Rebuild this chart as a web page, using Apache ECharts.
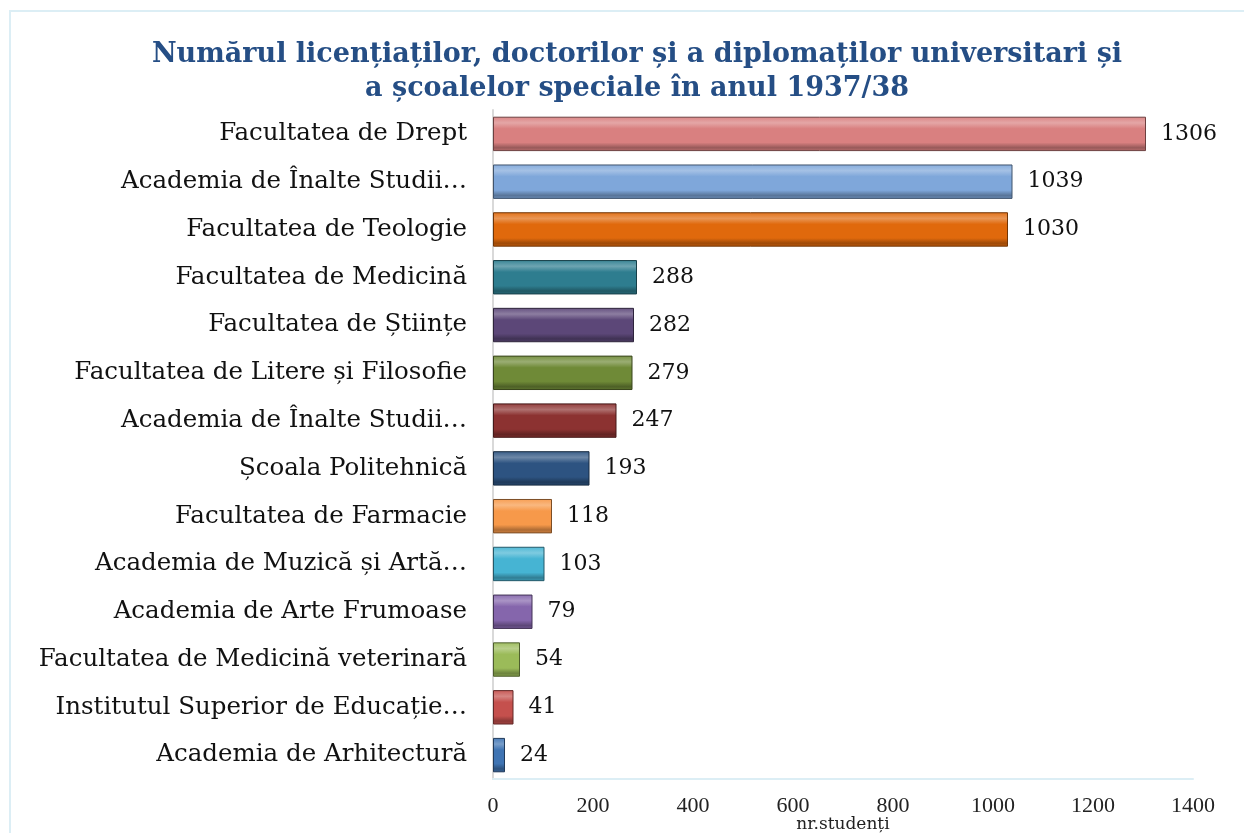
<!DOCTYPE html>
<html>
<head>
<meta charset="utf-8">
<script src="https://cdn.jsdelivr.net/npm/echarts@6/dist/echarts.min.js"></script>
<style>
html,body{margin:0;padding:0;background:#fff;}
#c{width:1244px;height:833px;}
</style>
</head>
<body>
<div id="c"></div>
<script>
const categories = [
  "Facultatea de Drept",
  "Academia de Înalte Studii…",
  "Facultatea de Teologie",
  "Facultatea de Medicină",
  "Facultatea de Științe",
  "Facultatea de Litere și Filosofie",
  "Academia de Înalte Studii…",
  "Școala Politehnică",
  "Facultatea de Farmacie",
  "Academia de Muzică și Artă…",
  "Academia de Arte Frumoase",
  "Facultatea de Medicină veterinară",
  "Institutul Superior de Educație…",
  "Academia de Arhitectură"
];
const values = [1306, 1039, 1030, 288, 282, 279, 247, 193, 118, 103, 79, 54, 41, 24];
const xTicks = [0, 200, 400, 600, 800, 1000, 1200, 1400];
const barColors = ["#D98080","#7FA7DA","#E0690C","#2E7D8F","#5C4778","#6F8A37","#8C3231",
                   "#2D5381","#F7994A","#46B4D3","#8566AC","#9BBB59","#C5504D","#3F74B3"];

function shade(hex, f) {
  const n = parseInt(hex.slice(1), 16);
  let r = (n >> 16) & 255, g = (n >> 8) & 255, b = n & 255;
  if (f >= 0) { r += (255 - r) * f; g += (255 - g) * f; b += (255 - b) * f; }
  else { r *= (1 + f); g *= (1 + f); b *= (1 + f); }
  return "rgb(" + Math.round(r) + "," + Math.round(g) + "," + Math.round(b) + ")";
}

const data = values.map((v, i) => ({
  value: v,
  itemStyle: {
    color: new echarts.graphic.LinearGradient(0, 0, 0, 1, [
      { offset: 0, color: shade(barColors[i], 0.05) },
      { offset: 0.18, color: shade(barColors[i], 0.3) },
      { offset: 0.35, color: barColors[i] },
      { offset: 0.75, color: barColors[i] },
      { offset: 0.9, color: shade(barColors[i], -0.3) },
      { offset: 1, color: shade(barColors[i], -0.15) }
    ]),
    borderColor: shade(barColors[i], -0.5),
    borderWidth: 1
  }
}));

const chart = echarts.init(document.getElementById('c'));
chart.setOption({
  backgroundColor: '#ffffff',
  animation: false,
  graphic: [{
    type: 'rect',
    shape: { x: 10, y: 11, width: 1260, height: 850 },
    style: { fill: 'none', stroke: '#DCEEF5', lineWidth: 2 },
    silent: true
  }],
  title: {
    text: 'Numărul licențiaților, doctorilor și a diplomaților universitari și\na școalelor speciale în anul 1937/38',
    left: 632,
    textAlign: 'center',
    top: 33,
    textStyle: {
      fontFamily: 'DejaVu Serif',
      fontWeight: 'bold',
      fontSize: 27,
      lineHeight: 34,
      color: '#254E85'
    }
  },
  grid: { left: 493, right: 51, top: 110, bottom: 54, containLabel: false, outerBoundsMode: 'none' },
  xAxis: {
    type: 'value',
    min: 0,
    max: 1400,
    interval: 200,
    name: 'nr.studenți',
    nameLocation: 'middle',
    nameGap: 37,
    nameMoveOverlap: false,
    nameTextStyle: { fontFamily: 'DejaVu Serif', fontSize: 17, color: '#222' },
    axisLine: { show: true, lineStyle: { color: '#DCEEF5', width: 2 } },
    axisTick: { show: false },
    splitLine: { show: false },
    axisLabel: {
      margin: 16,
      fontFamily: 'Liberation Serif',
      fontSize: 22,
      color: '#222',
      formatter: v => xTicks.includes(v) ? String(v) : ''
    }
  },
  yAxis: {
    type: 'category',
    data: categories,
    inverse: true,
    axisLine: { show: true, lineStyle: { color: '#D9D9D9', width: 2 } },
    axisTick: { show: false },
    axisLabel: {
      margin: 26,
      fontFamily: 'DejaVu Serif',
      fontSize: 24.5,
      color: '#111'
    }
  },
  series: [{
    type: 'bar',
    data: data,
    barWidth: '72%',
    label: {
      show: true,
      position: 'right',
      distance: 15,
      fontFamily: 'DejaVu Serif',
      fontSize: 22,
      color: '#111'
    }
  }]
});
</script>
</body>
</html>
